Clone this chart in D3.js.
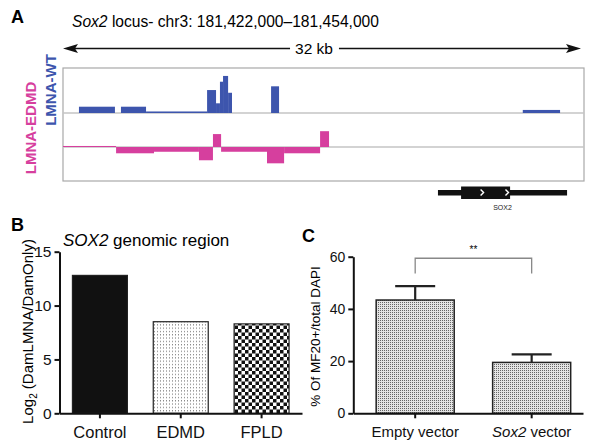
<!DOCTYPE html>
<html><head><meta charset="utf-8">
<script src="https://cdn.jsdelivr.net/npm/d3@7"></script>
<style>
html,body{margin:0;padding:0;background:#fff;}
svg{display:block;font-family:"Liberation Sans",Arial,sans-serif;}
</style></head>
<body>
<svg id="c" width="601" height="448"></svg>
<script>
// ---------- Panel A data (positions in kb from locus start) ----------
const locusStart = 181422000, locusEnd = 181454000;
const wtStart = [0.98, 3.56, 5.10, 8.85, 9.40, 9.64, 9.83, 10.14, 12.78, 28.24];
const wtEnd   = [3.19, 5.10, 8.85, 9.40, 9.64, 9.83, 10.14, 10.38, 13.27, 30.53];
const wtValue = [0.37, 0.37, 0.09, 1.35, 0.57, 1.84, 2.18, 1.19, 1.57, 0.18];
const edmdStart = [0, 3.26, 5.59, 8.35, 9.21, 9.71, 12.53, 13.58, 15.79];
const edmdEnd   = [3.26, 5.59, 8.35, 9.21, 9.71, 12.53, 13.58, 15.79, 16.34];
const edmdValue = [0.06, -0.37, -0.28, -0.78, 0.76, -0.28, -0.96, -0.37, 0.93];
const geneSpan = [23.03, 30.96];
const geneCds = [24.45, 27.46];
const geneChevrons = [25.74, 27.27];
const geneName = "SOX2";

// ---------- Panel B data ----------
const bCategories = ["Control", "EDMD", "FPLD"];
const bValues = [12.8, 8.5, 8.3];
const bTicks = [0, 5, 10, 15];

// ---------- Panel C data ----------
const cCategories = ["Empty vector", "Sox2 vector"];
const cMeans = [43.4, 19.5];
const cErrors = [5.3, 3.1];
const cTicks = [0, 20, 40, 60];

const svg = d3.select("#c");
const defs = svg.append("defs");
const BLUE = "#3d55ad", PINK = "#d63f9e";
const fmt = d3.format(",");

// patterns
const pDot = defs.append("pattern").attr("id","dots").attr("width",3).attr("height",3.3).attr("patternUnits","userSpaceOnUse");
pDot.append("rect").attr("width",3).attr("height",3.3).attr("fill","#fff");
pDot.append("rect").attr("x",1).attr("y",1).attr("width",1).attr("height",1).attr("fill","#666");
const pChk = defs.append("pattern").attr("id","chk").attr("width",7).attr("height",7).attr("patternUnits","userSpaceOnUse");
pChk.append("rect").attr("width",7).attr("height",7).attr("fill","#fff");
pChk.append("rect").attr("width",3.5).attr("height",3.5).attr("fill","#111");
pChk.append("rect").attr("x",3.5).attr("y",3.5).attr("width",3.5).attr("height",3.5).attr("fill","#111");
const pSt = defs.append("pattern").attr("id","stip").attr("width",2).attr("height",2).attr("patternUnits","userSpaceOnUse");
pSt.append("rect").attr("width",2).attr("height",2).attr("fill","#e4e4e4");
pSt.append("rect").attr("width",1).attr("height",1).attr("fill","#666");

// ================= Panel A =================
svg.append("text").attr("x",11).attr("y",23).attr("font-size",18).attr("font-weight","bold").text("A");
const title = svg.append("text").attr("x",72).attr("y",26.5).attr("font-size",15.6);
title.append("tspan").attr("font-style","italic").text("Sox2");
title.append("tspan").text(" locus- chr3: " + fmt(locusStart) + "\u2013" + fmt(locusEnd));

const xA = d3.scaleLinear().domain([0, (locusEnd - locusStart)/1000]).range([63, 584]);
const wtY = d3.scaleLinear().domain([0, 1]).range([113, 96]);
const edY = d3.scaleLinear().domain([0, 1]).range([147, 130]);

// 32 kb arrow
const arrowY = 48.5;
const kbLabel = svg.append("text").attr("x", 314).attr("y", 53.5)
  .attr("font-size",15.5).attr("text-anchor","middle").text(Math.round(xA.domain()[1]) + " kb");
const lbb = kbLabel.node().getBBox();
svg.append("line").attr("x1",xA(0)+10).attr("x2",lbb.x-5).attr("y1",arrowY).attr("y2",arrowY).attr("stroke","#111").attr("stroke-width",1.6);
svg.append("line").attr("x1",lbb.x+lbb.width+6).attr("x2",xA.range()[1]-12).attr("y1",arrowY).attr("y2",arrowY).attr("stroke","#111").attr("stroke-width",1.6);
svg.append("path").attr("d",`M${xA(0)},${arrowY} l15,-4.5 l-3,4.5 l3,4.5 z`).attr("fill","#111");
svg.append("path").attr("d",`M${xA.range()[1]-3},${arrowY} l-15,-4.5 l3,4.5 l-3,4.5 z`).attr("fill","#111");

// track box and baselines
svg.append("rect").attr("x",xA.range()[0]).attr("y",68).attr("width",xA.range()[1]-xA.range()[0]).attr("height",113)
  .attr("fill","none").attr("stroke","#a8a8a8").attr("stroke-width",1.2);
[wtY(0), edY(0)].forEach(y => svg.append("line").attr("x1",xA.range()[0]).attr("x2",xA.range()[1])
  .attr("y1",y).attr("y2",y).attr("stroke","#c4c4c4").attr("stroke-width",1.5));

const wt = wtStart.map((s,i)=>({s, e: wtEnd[i], v: wtValue[i]}));
svg.append("g").selectAll("rect").data(wt).join("rect")
  .attr("x",d=>xA(d.s)).attr("width",d=>xA(d.e)-xA(d.s))
  .attr("y",d=>Math.min(wtY(0),wtY(d.v))).attr("height",d=>Math.abs(wtY(d.v)-wtY(0)))
  .attr("fill",BLUE);
const ed = edmdStart.map((s,i)=>({s, e: edmdEnd[i], v: edmdValue[i]}));
svg.append("g").selectAll("rect").data(ed).join("rect")
  .attr("x",d=>xA(d.s)).attr("width",d=>xA(d.e)-xA(d.s))
  .attr("y",d=>Math.min(edY(0),edY(d.v))).attr("height",d=>Math.abs(edY(d.v)-edY(0)))
  .attr("fill",PINK);

svg.append("text").attr("transform","translate(56,90) rotate(-90)").attr("text-anchor","middle")
  .attr("font-size",15).attr("font-weight","bold").attr("fill",BLUE).text("LMNA-WT");
svg.append("text").attr("transform","translate(36,128) rotate(-90)").attr("text-anchor","middle")
  .attr("font-size",15).attr("font-weight","bold").attr("fill",PINK).text("LMNA-EDMD");

// gene model
svg.append("rect").attr("x",xA(geneSpan[0])).attr("width",xA(geneSpan[1])-xA(geneSpan[0])).attr("y",190).attr("height",5.5).attr("fill","#111");
svg.append("rect").attr("x",xA(geneCds[0])).attr("width",xA(geneCds[1])-xA(geneCds[0])).attr("y",186.5).attr("height",12.5).attr("fill","#111");
geneChevrons.forEach(k => svg.append("path").attr("d",`M${xA(k)-1.5},189.5 l3,3 l-3,3`).attr("fill","none").attr("stroke","#fff").attr("stroke-width",1.4));
svg.append("text").attr("x",xA((geneSpan[0]+geneSpan[1])/2)).attr("y",210).attr("text-anchor","middle")
  .attr("font-size",7).attr("fill","#222").text(geneName);

// ================= Panel B =================
svg.append("text").attr("x",11).attr("y",231).attr("font-size",18).attr("font-weight","bold").text("B");
const tB = svg.append("text").attr("x",63).attr("y",246).attr("font-size",17);
tB.append("tspan").attr("font-style","italic").text("SOX2");
tB.append("tspan").text(" genomic region");

const yB = d3.scaleLinear().domain([0,15]).range([413.3, 251.7]);
const xB = d3.scaleBand().domain(bCategories).range([59.5, 302]).paddingInner(0.32).paddingOuter(0.16);
const fillsB = ["#111", "url(#dots)", "url(#chk)"];
svg.append("g").selectAll("rect").data(bCategories).join("rect")
  .attr("x",d=>xB(d)).attr("width",xB.bandwidth())
  .attr("y",(d,i)=>yB(bValues[i])).attr("height",(d,i)=>yB(0)-yB(bValues[i]))
  .attr("fill",(d,i)=>fillsB[i]).attr("stroke","#222").attr("stroke-width",1.2);

const axBy = svg.append("g").attr("transform",`translate(${xB.range()[0]},0)`)
  .call(d3.axisLeft(yB).tickValues(bTicks).tickSize(5).tickSizeOuter(0).tickPadding(3));
const axBx = svg.append("g").attr("transform",`translate(0,${yB(0)})`)
  .call(d3.axisBottom(xB).tickSize(5).tickSizeOuter(0).tickPadding(8));
[axBy, axBx].forEach(a => { a.select(".domain").attr("stroke","#111").attr("stroke-width",2);
  a.selectAll(".tick line").attr("stroke","#111").attr("stroke-width",2);
  a.selectAll("text").attr("font-family","Liberation Sans, Arial, sans-serif").attr("fill","#111"); });
axBy.selectAll("text").attr("font-size",15.5);
axBx.selectAll("text").attr("font-size",16.5);

const ylB = svg.append("text").attr("transform",`translate(33,${(238+425)/2}) rotate(-90)`).attr("text-anchor","middle").attr("font-size",15);
ylB.append("tspan").text("Log");
ylB.append("tspan").attr("font-size",10).attr("dy",4).text("2");
ylB.append("tspan").attr("dy",-4).text(" (DamLMNA/DamOnly)");

// ================= Panel C =================
svg.append("text").attr("x",302).attr("y",242).attr("font-size",18).attr("font-weight","bold").text("C");
const yC = d3.scaleLinear().domain([0,60]).range([413.3, 256.7]);
const xC = d3.scaleBand().domain(cCategories).range([353.3, 583]).paddingInner(0.33).paddingOuter(0.151).align(0.65);

svg.append("g").selectAll("rect").data(cCategories).join("rect")
  .attr("x",d=>xC(d)).attr("width",xC.bandwidth())
  .attr("y",(d,i)=>yC(cMeans[i])).attr("height",(d,i)=>yC(0)-yC(cMeans[i]))
  .attr("fill","url(#stip)").attr("stroke","#222").attr("stroke-width",1.5);
const eg = svg.append("g").attr("stroke","#222").attr("stroke-width",2.2);
cCategories.forEach((c,i)=>{
  const cx = xC(c)+xC.bandwidth()/2;
  eg.append("line").attr("x1",cx).attr("x2",cx).attr("y1",yC(cMeans[i])).attr("y2",yC(cMeans[i]+cErrors[i]));
  eg.append("line").attr("x1",cx-20).attr("x2",cx+20).attr("y1",yC(cMeans[i]+cErrors[i])).attr("y2",yC(cMeans[i]+cErrors[i]));
});
const axCy = svg.append("g").attr("transform",`translate(${xC.range()[0]},0)`)
  .call(d3.axisLeft(yC).tickValues(cTicks).tickSize(5).tickSizeOuter(0).tickPadding(3));
const axCx = svg.append("g").attr("transform",`translate(0,${yC(0)})`)
  .call(d3.axisBottom(xC).tickSize(5).tickSizeOuter(0).tickPadding(8));
[axCy, axCx].forEach(a => { a.select(".domain").attr("stroke","#111").attr("stroke-width",2);
  a.selectAll(".tick line").attr("stroke","#111").attr("stroke-width",2);
  a.selectAll("text").attr("font-family","Liberation Sans, Arial, sans-serif").attr("fill","#111"); });
axCy.selectAll("text").attr("font-size",14);
axCx.selectAll("text").attr("font-size",15).each(function(d){
  const t = d3.select(this); const parts = d.split(" ");
  t.text(null);
  t.append("tspan").attr("font-style", parts[0]==="Sox2" ? "italic" : "normal").text(parts[0]);
  t.append("tspan").text(" " + parts.slice(1).join(" "));
});
// significance bracket
const c0 = xC(cCategories[0])+xC.bandwidth()/2, c1 = xC(cCategories[1])+xC.bandwidth()/2;
svg.append("path").attr("d",`M${c0},${yC(53.6)} V${yC(59.4)} H${c1} V${yC(53.6)}`)
  .attr("fill","none").attr("stroke","#888").attr("stroke-width",1.3);
svg.append("text").attr("x",(c0+c1)/2).attr("y",yC(59.4)-5).attr("text-anchor","middle").attr("font-size",10).text("**");

svg.append("text").attr("transform",`translate(320,${(263+410)/2}) rotate(-90)`).attr("text-anchor","middle")
  .attr("font-size",13.5).text("% Of MF20+/total DAPI");
</script>
</body></html>
